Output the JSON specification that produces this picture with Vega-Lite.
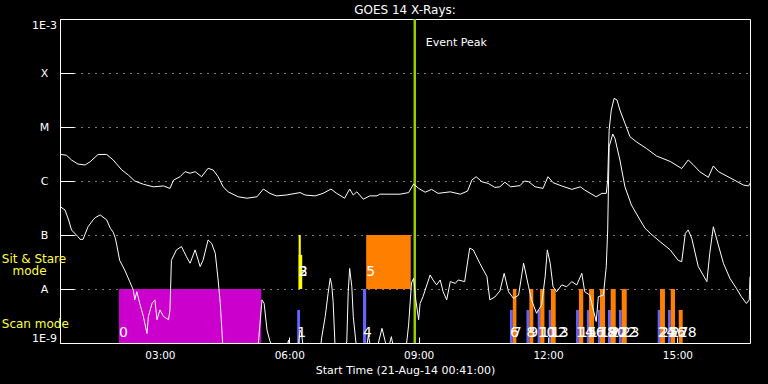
{
  "$schema": "https://vega.github.io/schema/vega-lite/v6.json",
  "width": 690,
  "height": 324,
  "autosize": "none",
  "padding": {"left": 60, "top": 19, "right": 18, "bottom": 41},
  "background": "black",
  "title": {"text": "GOES 14 X-Rays:", "color": "white", "fontSize": 12, "fontWeight": "normal", "font": "DejaVu Sans", "anchor": "middle", "offset": 0.5},
  "config": {
    "view": {"stroke": "white", "strokeWidth": 1},
    "axis": {"labelColor": "white", "labelFont": "DejaVu Sans", "tickColor": "white", "titleColor": "white", "titleFont": "DejaVu Sans", "titleFontWeight": "normal", "domain": false}
  },
  "datasets": {
    "long": [
      {"t": "2014-08-21T00:42", "f": 3.1e-6}, {"t": "2014-08-21T00:50", "f": 3.0e-6}, {"t": "2014-08-21T00:57", "f": 2.45e-6},
      {"t": "2014-08-21T01:06", "f": 2.06e-6}, {"t": "2014-08-21T01:16", "f": 1.98e-6}, {"t": "2014-08-21T01:23", "f": 2.28e-6},
      {"t": "2014-08-21T01:34", "f": 3.1e-6}, {"t": "2014-08-21T01:46", "f": 3.1e-6}, {"t": "2014-08-21T01:55", "f": 2.45e-6},
      {"t": "2014-08-21T02:07", "f": 1.6e-6}, {"t": "2014-08-21T02:16", "f": 1.29e-6}, {"t": "2014-08-21T02:25", "f": 1.0e-6},
      {"t": "2014-08-21T02:37", "f": 8.7e-7}, {"t": "2014-08-21T02:51", "f": 7.8e-7}, {"t": "2014-08-21T03:05", "f": 8.1e-7},
      {"t": "2014-08-21T03:14", "f": 7.3e-7}, {"t": "2014-08-21T03:19", "f": 1.04e-6}, {"t": "2014-08-21T03:28", "f": 1.2e-6},
      {"t": "2014-08-21T03:35", "f": 1.49e-6}, {"t": "2014-08-21T03:42", "f": 1.39e-6}, {"t": "2014-08-21T03:49", "f": 1.49e-6},
      {"t": "2014-08-21T03:58", "f": 1.2e-6}, {"t": "2014-08-21T04:07", "f": 1.72e-6}, {"t": "2014-08-21T04:14", "f": 1.6e-6},
      {"t": "2014-08-21T04:21", "f": 1.2e-6}, {"t": "2014-08-21T04:28", "f": 7.8e-7}, {"t": "2014-08-21T04:35", "f": 6.3e-7},
      {"t": "2014-08-21T04:49", "f": 5.1e-7}, {"t": "2014-08-21T05:01", "f": 4.8e-7}, {"t": "2014-08-21T05:15", "f": 5.1e-7},
      {"t": "2014-08-21T05:24", "f": 7.1e-7}, {"t": "2014-08-21T05:33", "f": 5.9e-7}, {"t": "2014-08-21T05:42", "f": 5.3e-7},
      {"t": "2014-08-21T05:56", "f": 5.5e-7}, {"t": "2014-08-21T06:15", "f": 6.1e-7}, {"t": "2014-08-21T06:22", "f": 5.5e-7},
      {"t": "2014-08-21T06:36", "f": 5.3e-7}, {"t": "2014-08-21T06:47", "f": 5.9e-7}, {"t": "2014-08-21T06:58", "f": 7.1e-7},
      {"t": "2014-08-21T07:06", "f": 5.9e-7}, {"t": "2014-08-21T07:17", "f": 4.8e-7}, {"t": "2014-08-21T07:24", "f": 7.1e-7},
      {"t": "2014-08-21T07:29", "f": 5.5e-7}, {"t": "2014-08-21T07:34", "f": 6.3e-7}, {"t": "2014-08-21T07:43", "f": 4.6e-7},
      {"t": "2014-08-21T07:52", "f": 5.3e-7}, {"t": "2014-08-21T08:02", "f": 5.3e-7}, {"t": "2014-08-21T08:06", "f": 5.7e-7},
      {"t": "2014-08-21T08:20", "f": 5.7e-7}, {"t": "2014-08-21T08:34", "f": 5.7e-7}, {"t": "2014-08-21T08:46", "f": 6.1e-7},
      {"t": "2014-08-21T08:53", "f": 8.8e-7}, {"t": "2014-08-21T09:00", "f": 7.3e-7}, {"t": "2014-08-21T09:09", "f": 6.2e-7},
      {"t": "2014-08-21T09:18", "f": 7.0e-7}, {"t": "2014-08-21T09:27", "f": 5.9e-7}, {"t": "2014-08-21T09:44", "f": 6.3e-7},
      {"t": "2014-08-21T09:58", "f": 5.7e-7}, {"t": "2014-08-21T10:08", "f": 6.5e-7}, {"t": "2014-08-21T10:14", "f": 1.04e-6},
      {"t": "2014-08-21T10:20", "f": 1.2e-6}, {"t": "2014-08-21T10:28", "f": 9.7e-7}, {"t": "2014-08-21T10:37", "f": 9.0e-7},
      {"t": "2014-08-21T10:46", "f": 7.6e-7}, {"t": "2014-08-21T10:53", "f": 7.8e-7}, {"t": "2014-08-21T11:00", "f": 9.5e-7},
      {"t": "2014-08-21T11:08", "f": 7.8e-7}, {"t": "2014-08-21T11:21", "f": 8.2e-7}, {"t": "2014-08-21T11:27", "f": 1.0e-6},
      {"t": "2014-08-21T11:33", "f": 9.7e-7}, {"t": "2014-08-21T11:42", "f": 7.8e-7}, {"t": "2014-08-21T11:53", "f": 7.3e-7},
      {"t": "2014-08-21T12:00", "f": 1.2e-6}, {"t": "2014-08-21T12:07", "f": 9.3e-7}, {"t": "2014-08-21T12:19", "f": 8.1e-7},
      {"t": "2014-08-21T12:33", "f": 7.0e-7}, {"t": "2014-08-21T12:45", "f": 7.8e-7}, {"t": "2014-08-21T12:51", "f": 6.8e-7},
      {"t": "2014-08-21T13:07", "f": 5.1e-7}, {"t": "2014-08-21T13:15", "f": 5.9e-7}, {"t": "2014-08-21T13:21", "f": 5.9e-7},
      {"t": "2014-08-21T13:23", "f": 1.04e-6}, {"t": "2014-08-21T13:25", "f": 8.8e-6}, {"t": "2014-08-21T13:28", "f": 2.06e-5},
      {"t": "2014-08-21T13:32", "f": 3.4e-5}, {"t": "2014-08-21T13:36", "f": 3.16e-5}, {"t": "2014-08-21T13:40", "f": 2.06e-5},
      {"t": "2014-08-21T13:47", "f": 1.17e-5}, {"t": "2014-08-21T13:54", "f": 6.6e-6}, {"t": "2014-08-21T14:03", "f": 5.3e-6},
      {"t": "2014-08-21T14:17", "f": 4.0e-6}, {"t": "2014-08-21T14:31", "f": 2.9e-6}, {"t": "2014-08-21T14:50", "f": 2.3e-6},
      {"t": "2014-08-21T15:06", "f": 1.7e-6}, {"t": "2014-08-21T15:15", "f": 2.45e-6}, {"t": "2014-08-21T15:22", "f": 2.0e-6},
      {"t": "2014-08-21T15:31", "f": 1.49e-6}, {"t": "2014-08-21T15:43", "f": 1.17e-6}, {"t": "2014-08-21T15:50", "f": 1.9e-6},
      {"t": "2014-08-21T15:57", "f": 1.49e-6}, {"t": "2014-08-21T16:13", "f": 1.15e-6}, {"t": "2014-08-21T16:32", "f": 8.4e-7},
      {"t": "2014-08-21T16:39", "f": 8.1e-7}, {"t": "2014-08-21T16:41", "f": 9.1e-7}
    ],
    "short": [
      {"t": "2014-08-21T00:42", "f": 3.3e-7}, {"t": "2014-08-21T00:48", "f": 2.9e-7}, {"t": "2014-08-21T00:53", "f": 1.9e-7},
      {"t": "2014-08-21T00:57", "f": 1.24e-7}, {"t": "2014-08-21T01:06", "f": 9.3e-8}, {"t": "2014-08-21T01:09", "f": 8.3e-8},
      {"t": "2014-08-21T01:13", "f": 8.3e-8}, {"t": "2014-08-21T01:20", "f": 1.42e-7}, {"t": "2014-08-21T01:27", "f": 1.9e-7},
      {"t": "2014-08-21T01:30", "f": 2.1e-7}, {"t": "2014-08-21T01:37", "f": 2.35e-7}, {"t": "2014-08-21T01:46", "f": 1.9e-7},
      {"t": "2014-08-21T01:51", "f": 1.33e-7}, {"t": "2014-08-21T01:55", "f": 1.13e-7}, {"t": "2014-08-21T01:58", "f": 8.7e-8},
      {"t": "2014-08-21T02:00", "f": 6.5e-8}, {"t": "2014-08-21T02:04", "f": 3.4e-8}, {"t": "2014-08-21T02:11", "f": 2.25e-8},
      {"t": "2014-08-21T02:18", "f": 1.37e-8}, {"t": "2014-08-21T02:23", "f": 9.6e-9}, {"t": "2014-08-21T02:25", "f": 6.3e-9},
      {"t": "2014-08-21T02:28", "f": 8.9e-9}, {"t": "2014-08-21T02:32", "f": 5.4e-9}, {"t": "2014-08-21T02:37", "f": 3.1e-9},
      {"t": "2014-08-21T02:42", "f": 1.5e-9}, {"t": "2014-08-21T02:44", "f": 3.1e-9}, {"t": "2014-08-21T02:49", "f": 5.4e-9},
      {"t": "2014-08-21T02:53", "f": 6.3e-9}, {"t": "2014-08-21T02:56", "f": 2.7e-9}, {"t": "2014-08-21T03:00", "f": 4.1e-9},
      {"t": "2014-08-21T03:05", "f": 3.1e-9}, {"t": "2014-08-21T03:12", "f": 2.7e-9}, {"t": "2014-08-21T03:14", "f": 4.1e-9},
      {"t": "2014-08-21T03:16", "f": 3.4e-8}, {"t": "2014-08-21T03:23", "f": 5.3e-8}, {"t": "2014-08-21T03:30", "f": 6.1e-8},
      {"t": "2014-08-21T03:37", "f": 3.95e-8}, {"t": "2014-08-21T03:42", "f": 3.0e-8}, {"t": "2014-08-21T03:49", "f": 5.3e-8},
      {"t": "2014-08-21T03:56", "f": 2.6e-8}, {"t": "2014-08-21T04:00", "f": 3.4e-8}, {"t": "2014-08-21T04:07", "f": 8.1e-8},
      {"t": "2014-08-21T04:12", "f": 7.0e-8}, {"t": "2014-08-21T04:17", "f": 4.6e-8}, {"t": "2014-08-21T04:21", "f": 1.47e-8},
      {"t": "2014-08-21T04:24", "f": 5.4e-9}, {"t": "2014-08-21T04:28", "f": 7e-10}, {"t": "2014-08-21T05:16", "f": 7e-10},
      {"t": "2014-08-21T05:22", "f": 6.3e-9}, {"t": "2014-08-21T05:25", "f": 5.4e-9}, {"t": "2014-08-21T05:29", "f": 1.74e-9},
      {"t": "2014-08-21T05:33", "f": 1.09e-9}, {"t": "2014-08-21T05:40", "f": 7e-10}, {"t": "2014-08-21T05:55", "f": 7e-10},
      {"t": "2014-08-21T05:59", "f": 1.13e-9}, {"t": "2014-08-21T06:02", "f": 7e-10}, {"t": "2014-08-21T06:12", "f": 7e-10},
      {"t": "2014-08-21T06:15", "f": 1.74e-9}, {"t": "2014-08-21T06:17", "f": 1.53e-9}, {"t": "2014-08-21T06:20", "f": 7e-10},
      {"t": "2014-08-21T06:43", "f": 7e-10}, {"t": "2014-08-21T06:45", "f": 1.24e-9}, {"t": "2014-08-21T06:50", "f": 3.1e-9},
      {"t": "2014-08-21T06:54", "f": 8.3e-9}, {"t": "2014-08-21T06:57", "f": 1.58e-8}, {"t": "2014-08-21T06:59", "f": 1.19e-8},
      {"t": "2014-08-21T07:01", "f": 5.8e-9}, {"t": "2014-08-21T07:04", "f": 7e-10}, {"t": "2014-08-21T07:15", "f": 7e-10},
      {"t": "2014-08-21T07:20", "f": 1.05e-9}, {"t": "2014-08-21T07:22", "f": 8.9e-9}, {"t": "2014-08-21T07:24", "f": 2.4e-8},
      {"t": "2014-08-21T07:27", "f": 1.1e-8}, {"t": "2014-08-21T07:29", "f": 3.1e-9}, {"t": "2014-08-21T07:34", "f": 7e-10},
      {"t": "2014-08-21T07:47", "f": 7e-10}, {"t": "2014-08-21T07:50", "f": 1.41e-9}, {"t": "2014-08-21T07:54", "f": 7e-10},
      {"t": "2014-08-21T08:01", "f": 7e-10}, {"t": "2014-08-21T08:09", "f": 1.87e-9}, {"t": "2014-08-21T08:13", "f": 1.13e-9},
      {"t": "2014-08-21T08:17", "f": 7e-10}, {"t": "2014-08-21T08:22", "f": 1.31e-9}, {"t": "2014-08-21T08:26", "f": 7e-10},
      {"t": "2014-08-21T08:42", "f": 7e-10}, {"t": "2014-08-21T08:46", "f": 2.15e-9}, {"t": "2014-08-21T08:50", "f": 1.29e-8},
      {"t": "2014-08-21T08:53", "f": 1.58e-8}, {"t": "2014-08-21T08:56", "f": 6.3e-9}, {"t": "2014-08-21T09:00", "f": 2.7e-9},
      {"t": "2014-08-21T09:02", "f": 5.4e-9}, {"t": "2014-08-21T09:06", "f": 7.2e-9}, {"t": "2014-08-21T09:16", "f": 1.82e-8},
      {"t": "2014-08-21T09:20", "f": 1.47e-8}, {"t": "2014-08-21T09:25", "f": 1.19e-8}, {"t": "2014-08-21T09:30", "f": 1.47e-8},
      {"t": "2014-08-21T09:34", "f": 8.9e-9}, {"t": "2014-08-21T09:39", "f": 6.3e-9}, {"t": "2014-08-21T09:44", "f": 1.37e-8},
      {"t": "2014-08-21T09:51", "f": 1.27e-8}, {"t": "2014-08-21T09:55", "f": 1.47e-8}, {"t": "2014-08-21T10:04", "f": 1.37e-8},
      {"t": "2014-08-21T10:11", "f": 5.7e-8}, {"t": "2014-08-21T10:16", "f": 5.3e-8}, {"t": "2014-08-21T10:25", "f": 3.0e-8},
      {"t": "2014-08-21T10:35", "f": 1.7e-8}, {"t": "2014-08-21T10:39", "f": 6.3e-9}, {"t": "2014-08-21T10:46", "f": 7.1e-9},
      {"t": "2014-08-21T10:53", "f": 9.2e-9}, {"t": "2014-08-21T10:59", "f": 1.95e-8}, {"t": "2014-08-21T11:05", "f": 8.9e-9},
      {"t": "2014-08-21T11:12", "f": 6.7e-9}, {"t": "2014-08-21T11:19", "f": 7.7e-9}, {"t": "2014-08-21T11:26", "f": 3.0e-8},
      {"t": "2014-08-21T11:33", "f": 1.1e-8}, {"t": "2014-08-21T11:37", "f": 6.3e-9}, {"t": "2014-08-21T11:44", "f": 3.55e-9},
      {"t": "2014-08-21T11:51", "f": 5.05e-9}, {"t": "2014-08-21T11:56", "f": 1.7e-8}, {"t": "2014-08-21T11:59", "f": 5.3e-8},
      {"t": "2014-08-21T12:03", "f": 3.0e-8}, {"t": "2014-08-21T12:07", "f": 1.1e-8}, {"t": "2014-08-21T12:12", "f": 8.9e-9},
      {"t": "2014-08-21T12:19", "f": 1.19e-8}, {"t": "2014-08-21T12:26", "f": 1.1e-8}, {"t": "2014-08-21T12:33", "f": 1.37e-8},
      {"t": "2014-08-21T12:40", "f": 1.19e-8}, {"t": "2014-08-21T12:47", "f": 1.95e-8}, {"t": "2014-08-21T12:51", "f": 8.9e-9},
      {"t": "2014-08-21T12:58", "f": 7.7e-9}, {"t": "2014-08-21T13:07", "f": 2.5e-9}, {"t": "2014-08-21T13:10", "f": 7.2e-9},
      {"t": "2014-08-21T13:17", "f": 7.7e-9}, {"t": "2014-08-21T13:21", "f": 2.6e-8}, {"t": "2014-08-21T13:23", "f": 1.24e-7},
      {"t": "2014-08-21T13:25", "f": 4.3e-6}, {"t": "2014-08-21T13:30", "f": 7.4e-6}, {"t": "2014-08-21T13:33", "f": 6.2e-6},
      {"t": "2014-08-21T13:40", "f": 2.45e-6}, {"t": "2014-08-21T13:47", "f": 7.8e-7}, {"t": "2014-08-21T13:56", "f": 3.6e-7},
      {"t": "2014-08-21T14:08", "f": 1.9e-7}, {"t": "2014-08-21T14:15", "f": 1.33e-7}, {"t": "2014-08-21T14:22", "f": 1.08e-7},
      {"t": "2014-08-21T14:36", "f": 7.5e-8}, {"t": "2014-08-21T14:50", "f": 5.3e-8}, {"t": "2014-08-21T15:01", "f": 3.4e-8},
      {"t": "2014-08-21T15:06", "f": 3.2e-8}, {"t": "2014-08-21T15:11", "f": 1.07e-7}, {"t": "2014-08-21T15:15", "f": 1.24e-7},
      {"t": "2014-08-21T15:20", "f": 8.7e-8}, {"t": "2014-08-21T15:29", "f": 2.6e-8}, {"t": "2014-08-21T15:41", "f": 1.37e-8},
      {"t": "2014-08-21T15:45", "f": 4.6e-8}, {"t": "2014-08-21T15:50", "f": 1.42e-7}, {"t": "2014-08-21T15:55", "f": 8.1e-8},
      {"t": "2014-08-21T16:04", "f": 3.0e-8}, {"t": "2014-08-21T16:13", "f": 1.58e-8}, {"t": "2014-08-21T16:22", "f": 1.03e-8},
      {"t": "2014-08-21T16:29", "f": 7.2e-9}, {"t": "2014-08-21T16:36", "f": 5.4e-9}, {"t": "2014-08-21T16:40", "f": 6.3e-9},
      {"t": "2014-08-21T16:41", "f": 1.7e-8}
    ],
    "bars": [
      {"id": "0", "k": "raster", "s": "2014-08-21T02:03", "e": "2014-08-21T05:21", "lo": 1e-9, "hi": 1e-8, "ly": 1.53e-9},
      {"id": "1", "k": "scan", "s": "2014-08-21T06:11", "e": "2014-08-21T06:15", "lo": 1e-9, "hi": 4.1e-9, "ly": 1.53e-9},
      {"id": "2", "k": "sit", "s": "2014-08-21T06:13", "e": "2014-08-21T06:16", "lo": 1e-8, "hi": 1e-7, "ly": 2.07e-8},
      {"id": "3", "k": "sit", "s": "2014-08-21T06:13", "e": "2014-08-21T06:18", "lo": 1e-8, "hi": 4.3e-8, "ly": 2.07e-8},
      {"id": "4", "k": "scan", "s": "2014-08-21T07:42:30", "e": "2014-08-21T07:47", "lo": 1e-9, "hi": 1e-8, "ly": 1.53e-9},
      {"id": "5", "k": "other", "s": "2014-08-21T07:47", "e": "2014-08-21T08:49", "lo": 1e-8, "hi": 1e-7, "ly": 2.07e-8},
      {"id": "6", "k": "scan", "s": "2014-08-21T11:07", "e": "2014-08-21T11:11", "lo": 1e-9, "hi": 4.1e-9, "ly": 1.53e-9},
      {"id": "7", "k": "other", "s": "2014-08-21T11:11", "e": "2014-08-21T11:16", "lo": 1e-9, "hi": 1e-8, "ly": 1.53e-9},
      {"id": "8", "k": "scan", "s": "2014-08-21T11:30", "e": "2014-08-21T11:34", "lo": 1e-9, "hi": 4.1e-9, "ly": 1.53e-9},
      {"id": "9", "k": "other", "s": "2014-08-21T11:34", "e": "2014-08-21T11:39:30", "lo": 1e-9, "hi": 1e-8, "ly": 1.53e-9},
      {"id": "10", "k": "scan", "s": "2014-08-21T11:45:36", "e": "2014-08-21T11:49", "lo": 1e-9, "hi": 4.1e-9, "ly": 1.53e-9},
      {"id": "11", "k": "other", "s": "2014-08-21T11:49", "e": "2014-08-21T11:55", "lo": 1e-9, "hi": 1e-8, "ly": 1.53e-9},
      {"id": "12", "k": "scan", "s": "2014-08-21T12:01", "e": "2014-08-21T12:04", "lo": 1e-9, "hi": 4.1e-9, "ly": 1.53e-9},
      {"id": "13", "k": "other", "s": "2014-08-21T12:04", "e": "2014-08-21T12:10:40", "lo": 1e-9, "hi": 1e-8, "ly": 1.53e-9},
      {"id": "14", "k": "scan", "s": "2014-08-21T12:39", "e": "2014-08-21T12:43", "lo": 1e-9, "hi": 4.1e-9, "ly": 1.53e-9},
      {"id": "15", "k": "other", "s": "2014-08-21T12:43", "e": "2014-08-21T12:49", "lo": 1e-9, "hi": 1e-8, "ly": 1.53e-9},
      {"id": "16", "k": "scan", "s": "2014-08-21T12:54", "e": "2014-08-21T12:58", "lo": 1e-9, "hi": 4.1e-9, "ly": 1.53e-9},
      {"id": "17", "k": "other", "s": "2014-08-21T12:57", "e": "2014-08-21T13:04", "lo": 1e-9, "hi": 1e-8, "ly": 1.53e-9},
      {"id": "18", "k": "scan", "s": "2014-08-21T13:09:30", "e": "2014-08-21T13:13:40", "lo": 1e-9, "hi": 4.1e-9, "ly": 1.53e-9},
      {"id": "19", "k": "other", "s": "2014-08-21T13:12:20", "e": "2014-08-21T13:19:20", "lo": 1e-9, "hi": 1e-8, "ly": 1.53e-9},
      {"id": "20", "k": "scan", "s": "2014-08-21T13:23:25", "e": "2014-08-21T13:27:35", "lo": 1e-9, "hi": 4.1e-9, "ly": 1.53e-9},
      {"id": "21", "k": "other", "s": "2014-08-21T13:27:10", "e": "2014-08-21T13:34:10", "lo": 1e-9, "hi": 1e-8, "ly": 1.53e-9},
      {"id": "22", "k": "scan", "s": "2014-08-21T13:38:40", "e": "2014-08-21T13:42:30", "lo": 1e-9, "hi": 4.1e-9, "ly": 1.53e-9},
      {"id": "23", "k": "other", "s": "2014-08-21T13:42:30", "e": "2014-08-21T13:49:30", "lo": 1e-9, "hi": 1e-8, "ly": 1.53e-9},
      {"id": "24", "k": "scan", "s": "2014-08-21T14:32:35", "e": "2014-08-21T14:35:50", "lo": 1e-9, "hi": 4.1e-9, "ly": 1.53e-9},
      {"id": "25", "k": "other", "s": "2014-08-21T14:35:50", "e": "2014-08-21T14:42:40", "lo": 1e-9, "hi": 1e-8, "ly": 1.53e-9},
      {"id": "26", "k": "scan", "s": "2014-08-21T14:47", "e": "2014-08-21T14:50:40", "lo": 1e-9, "hi": 4.1e-9, "ly": 1.53e-9},
      {"id": "27", "k": "other", "s": "2014-08-21T14:50:40", "e": "2014-08-21T14:56:40", "lo": 1e-9, "hi": 1e-8, "ly": 1.53e-9},
      {"id": "28", "k": "other", "s": "2014-08-21T15:01:50", "e": "2014-08-21T15:07:20", "lo": 1e-9, "hi": 4.1e-9, "ly": 1.53e-9}
    ]
  },
  "layer": [
    {
      "data": {"name": "bars"},
      "mark": {"type": "rect", "clip": true},
      "encoding": {
        "x": {"field": "s", "type": "temporal", "scale": {"domain": ["2014-08-21T00:41", "2014-08-21T16:41"], "nice": false},
              "axis": {"tickCount": 6, "format": "%H:%M", "tickSize": -6, "labelPadding": 13, "labelFontSize": 10.5, "grid": false, "title": "Start Time (21-Aug-14 00:41:00)", "titleFontSize": 11}},
        "x2": {"field": "e"},
        "y": {"field": "lo", "type": "quantitative", "scale": {"type": "log", "domain": [1e-9, 1e-3], "nice": false},
              "axis": {"values": [1e-9, 1e-8, 1e-7, 1e-6, 1e-5, 1e-4, 1e-3], "labelExpr": "datum.value >= 9e-4 ? '1E-3' : datum.value >= 9e-5 ? 'X' : datum.value >= 9e-6 ? 'M' : datum.value >= 9e-7 ? 'C' : datum.value >= 9e-8 ? 'B' : datum.value >= 9e-9 ? 'A' : '1E-9'", "tickSize": -14, "labelPadding": 30, "labelAlign": "center", "labelFlush": true, "labelFontSize": 11, "grid": true, "gridColor": "white", "gridDash": [1, 6], "gridOpacity": 1, "title": null}},
        "y2": {"field": "hi"},
        "color": {"field": "k", "type": "nominal", "legend": null, "scale": {"domain": ["raster", "scan", "sit", "other"], "range": ["#cc00cc", "#6464ff", "#ffff00", "#ff8000"]}}
      }
    },
    {
      "data": {"values": [{"t": "2014-08-21T08:54:36"}]},
      "mark": {"type": "rule", "color": "#99cc00", "strokeWidth": 2.5},
      "encoding": {
        "x": {"field": "t", "type": "temporal"}
      }
    },
    {
      "data": {"name": "long"},
      "mark": {"type": "line", "color": "white", "strokeWidth": 1, "clip": true},
      "encoding": {
        "x": {"field": "t", "type": "temporal"},
        "y": {"field": "f", "type": "quantitative"}
      }
    },
    {
      "data": {"name": "short"},
      "mark": {"type": "line", "color": "white", "strokeWidth": 1, "clip": true},
      "encoding": {
        "x": {"field": "t", "type": "temporal"},
        "y": {"field": "f", "type": "quantitative"}
      }
    },
    {
      "data": {"name": "bars"},
      "mark": {"type": "text", "color": "white", "font": "DejaVu Sans", "fontSize": 14, "align": "left", "baseline": "middle"},
      "encoding": {
        "x": {"field": "s", "type": "temporal"},
        "y": {"field": "ly", "type": "quantitative"},
        "text": {"field": "id"}
      }
    },
    {
      "data": {"values": [{"t": "2014-08-21T09:10", "f": 3.6e-4, "txt": "Event Peak"}]},
      "mark": {"type": "text", "color": "white", "font": "DejaVu Sans", "fontSize": 11, "align": "left", "baseline": "middle"},
      "encoding": {
        "x": {"field": "t", "type": "temporal"},
        "y": {"field": "f", "type": "quantitative"},
        "text": {"field": "txt"}
      }
    },
    {
      "data": {"values": [
        {"t": "2014-08-20T23:20", "f": 3.6e-8, "txt": "Sit & Stare"},
        {"t": "2014-08-20T23:35", "f": 2.15e-8, "txt": "mode"},
        {"t": "2014-08-20T23:20", "f": 2.25e-9, "txt": "Scan mode"}
      ]},
      "mark": {"type": "text", "color": "#ffff40", "font": "DejaVu Sans", "fontSize": 12, "align": "left", "baseline": "middle"},
      "encoding": {
        "x": {"field": "t", "type": "temporal"},
        "y": {"field": "f", "type": "quantitative"},
        "text": {"field": "txt"}
      }
    }
  ]
}
